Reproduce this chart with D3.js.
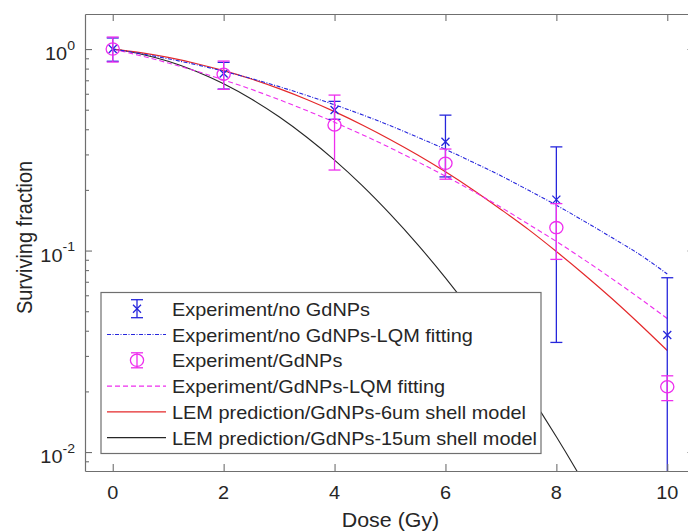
<!DOCTYPE html>
<html>
<head>
<meta charset="utf-8">
<script src="https://cdn.jsdelivr.net/npm/d3@7"></script>
<style>
  body { margin: 0; background: #fff; }
  svg { display: block; }
  text { font-family: Arial, "Liberation Sans", Helvetica, sans-serif; fill: #262626; }
</style>
</head>
<body>
<svg id="chart" width="688" height="532"></svg>
<script>
// ---- data ----
const doseTicks = [0, 2, 4, 6, 8, 10];
const yTickExps = [0, -1, -2];

const expDoses = [0, 2, 4, 6, 8, 10];
const noGdValue = [1.0, 0.757, 0.498, 0.347, 0.179, 0.0381];
const noGdUpper = [1.135, 0.859, 0.55, 0.47, 0.327, 0.0733];
const noGdLower = [0.87, 0.633, 0.448, 0.232, 0.035, 0.001];
const gdValue = [1.0, 0.75, 0.42, 0.271, 0.130, 0.0211];
const gdUpper = [1.147, 0.872, 0.591, 0.319, 0.171, 0.0239];
const gdLower = [0.862, 0.631, 0.251, 0.226, 0.0904, 0.018];

const fitDoses = [0, 0.5, 1, 1.5, 2, 2.5, 3, 3.5, 4, 4.5, 5, 5.5, 6, 6.5, 7, 7.5, 8, 8.5, 9, 9.5, 10];
const noGdFit = [1, 0.950, 0.895, 0.837, 0.776, 0.714, 0.651, 0.589, 0.529, 0.472, 0.417, 0.365, 0.318, 0.274, 0.235, 0.199, 0.168, 0.140, 0.116, 0.0957, 0.0765];
const gdFit = [1, 0.927, 0.853, 0.778, 0.703, 0.631, 0.561, 0.495, 0.433, 0.376, 0.324, 0.276, 0.234, 0.197, 0.164, 0.135, 0.111, 0.0901, 0.0726, 0.0580, 0.0460];
const lem6um = [1, 0.960, 0.909, 0.848, 0.781, 0.710, 0.636, 0.562, 0.489, 0.420, 0.356, 0.298, 0.246, 0.200, 0.160, 0.127, 0.0989, 0.0761, 0.0578, 0.0432, 0.0319];
const lem15um = [1, 0.946, 0.870, 0.776, 0.672, 0.565, 0.461, 0.365, 0.281, 0.210, 0.152, 0.107, 0.0732, 0.0486, 0.0313, 0.0196, 0.0119, 0.0070, 0.0040, 0.0021, 0.0011];

const legendLabels = [
  "Experiment/no GdNPs",
  "Experiment/no GdNPs-LQM fitting",
  "Experiment/GdNPs",
  "Experiment/GdNPs-LQM fitting",
  "LEM prediction/GdNPs-6um shell model",
  "LEM prediction/GdNPs-15um shell model"
];

// ---- styles ----
const BLUE = "#2626dc", MAGENTA = "#ee2eee", RED = "#e4282a", BLACK = "#262626";
const AXIS = "#6f6f6f";
const SX = 1.125; // horizontal glyph stretch
const FS = 17.7;  // tick and legend font size

const svg = d3.select("#chart");
const L = 85, R = 695, T = 14, B = 471;

const x = d3.scaleLinear().domain([-0.5, 10.5]).range([L, R]);
const y = d3.scaleLog().domain([Math.pow(10, -2.094), Math.pow(10, 0.174)]).range([B, T]);

svg.append("defs").append("clipPath").attr("id", "plotClip")
  .append("rect").attr("x", L).attr("y", T).attr("width", R - L).attr("height", B - T);

const plot = svg.append("g").attr("clip-path", "url(#plotClip)");

// ---- curves ----
const line = d3.line()
  .x((d, i) => x(fitDoses[i]))
  .y(d => y(d))
  .curve(d3.curveMonotoneX);

plot.append("path").datum(lem15um).attr("d", line)
  .attr("fill", "none").attr("stroke", BLACK).attr("stroke-width", 1.1);
plot.append("path").datum(lem6um).attr("d", line)
  .attr("fill", "none").attr("stroke", RED).attr("stroke-width", 1.2);
plot.append("path").datum(gdFit).attr("d", line)
  .attr("fill", "none").attr("stroke", MAGENTA).attr("stroke-width", 1.1)
  .attr("stroke-dasharray", "5,3");
plot.append("path").datum(noGdFit).attr("d", line)
  .attr("fill", "none").attr("stroke", BLUE).attr("stroke-width", 1.1)
  .attr("stroke-dasharray", "4,1.5,1,1.5");

// ---- error bars ----
function errorBars(g, vals, lo, hi, color, marker) {
  const cap = 6;
  expDoses.forEach((d, i) => {
    const cx = x(d);
    g.append("line").attr("x1", cx).attr("x2", cx).attr("y1", y(lo[i])).attr("y2", y(hi[i]))
      .attr("stroke", color).attr("stroke-width", 1.3);
    [lo[i], hi[i]].forEach(v => {
      g.append("line").attr("x1", cx - cap).attr("x2", cx + cap).attr("y1", y(v)).attr("y2", y(v))
        .attr("stroke", color).attr("stroke-width", 1.3);
    });
    marker(g, cx, y(vals[i]), color);
  });
}
function crossMarker(g, cx, cy, color) {
  const s = 4;
  g.append("path").attr("d", `M${cx - s},${cy - s}L${cx + s},${cy + s}M${cx - s},${cy + s}L${cx + s},${cy - s}`)
    .attr("stroke", color).attr("stroke-width", 1.3).attr("fill", "none");
}
function circleMarker(g, cx, cy, color) {
  g.append("ellipse").attr("cx", cx).attr("cy", cy).attr("rx", 6.6).attr("ry", 6.1)
    .attr("stroke", color).attr("stroke-width", 1.3).attr("fill", "none");
}

errorBars(plot, noGdValue, noGdLower, noGdUpper, BLUE, crossMarker);
errorBars(plot, gdValue, gdLower, gdUpper, MAGENTA, circleMarker);

// ---- axes (box) ----
const minorVals = [];
[-3, -2, -1].forEach(e => { for (let k = 2; k <= 9; k++) minorVals.push(k * Math.pow(10, e)); });
const inDomain = v => v >= y.domain()[0] && v <= y.domain()[1];
const yMajors = yTickExps.map(e => Math.pow(10, e));
const yMinors = minorVals.filter(inDomain);

function styleAxis(g) {
  g.selectAll("path.domain").attr("stroke", AXIS).attr("stroke-width", 1.2);
  g.selectAll(".tick line").attr("stroke", AXIS).attr("stroke-width", 1.1);
  g.selectAll(".tick text").remove();
}
const ax = svg.append("g");
ax.append("g").attr("transform", `translate(0,${B})`)
  .call(d3.axisBottom(x).tickValues(doseTicks).tickSize(-7).tickSizeOuter(0).tickFormat("")).call(styleAxis);
ax.append("g").attr("transform", `translate(0,${T})`)
  .call(d3.axisTop(x).tickValues(doseTicks).tickSize(-7).tickSizeOuter(0).tickFormat("")).call(styleAxis);
ax.append("g").attr("transform", `translate(${L},0)`)
  .call(d3.axisLeft(y).tickValues(yMajors).tickSize(-7).tickSizeOuter(0).tickFormat("")).call(styleAxis);
ax.append("g").attr("transform", `translate(${L},0)`)
  .call(d3.axisLeft(y).tickValues(yMinors).tickSize(-4).tickSizeOuter(0).tickFormat("")).call(styleAxis)
  .select("path.domain").remove();
ax.append("g").attr("transform", `translate(${R},0)`)
  .call(d3.axisRight(y).tickValues(yMajors).tickSize(-7.5).tickSizeOuter(0).tickFormat("")).call(styleAxis);
ax.append("g").attr("transform", `translate(${R},0)`)
  .call(d3.axisRight(y).tickValues(yMinors).tickSize(-4).tickSizeOuter(0).tickFormat("")).call(styleAxis)
  .select("path.domain").remove();

// ---- tick labels ----
doseTicks.forEach(d => {
  svg.append("text").attr("transform", `translate(${x(d)},499) scale(${SX},1)`)
    .attr("text-anchor", "middle").attr("font-size", FS).text(d);
});
yTickExps.forEach(e => {
  const t = svg.append("text").attr("transform", `translate(75,${y(Math.pow(10, e)) + 11}) scale(${SX},1)`)
    .attr("text-anchor", "end").attr("font-size", FS);
  t.append("tspan").text("10");
  t.append("tspan").attr("dy", -10.5).attr("font-size", 12.5).text(e);
});

// ---- axis titles ----
svg.append("text").attr("transform", `translate(390.5,527) scale(1.07,1)`)
  .attr("text-anchor", "middle").attr("font-size", 20).text("Dose (Gy)");
svg.append("text").attr("transform", `translate(32,237.5) scale(${SX},1) rotate(-90)`)
  .attr("text-anchor", "middle").attr("font-size", 20).text("Surviving fraction");

// ---- legend ----
const lg = svg.append("g");
lg.append("rect").attr("x", 101).attr("y", 292.5).attr("width", 440).attr("height", 161)
  .attr("fill", "#fff").attr("stroke", AXIS).attr("stroke-width", 1.2);
const rowBase = 315.7, rowStep = 25.8;
legendLabels.forEach((lab, i) => {
  const by = rowBase + i * rowStep;
  const cy = by - 7;
  lg.append("text").attr("transform", `translate(172,${by}) scale(${SX},1)`)
    .attr("font-size", FS).text(lab);
  if (i === 0 || i === 2) {
    const color = i === 0 ? BLUE : MAGENTA;
    const h = i === 0 ? 9 : 7.5;
    lg.append("line").attr("x1", 137).attr("x2", 137).attr("y1", cy - h).attr("y2", cy + h)
      .attr("stroke", color).attr("stroke-width", 1.3);
    [cy - h, cy + h].forEach(v => lg.append("line").attr("x1", 131).attr("x2", 143)
      .attr("y1", v).attr("y2", v).attr("stroke", color).attr("stroke-width", 1.3));
    (i === 0 ? crossMarker : circleMarker)(lg, 137, cy, color);
  } else {
    const style = {
      1: [BLUE, "4,1.5,1,1.5"],
      3: [MAGENTA, "5,3"],
      4: [RED, null],
      5: [BLACK, null]
    }[i];
    const ln = lg.append("line").attr("x1", 107).attr("x2", 166).attr("y1", cy).attr("y2", cy)
      .attr("stroke", style[0]).attr("stroke-width", 1.2);
    if (style[1]) ln.attr("stroke-dasharray", style[1]);
  }
});
</script>
</body>
</html>
